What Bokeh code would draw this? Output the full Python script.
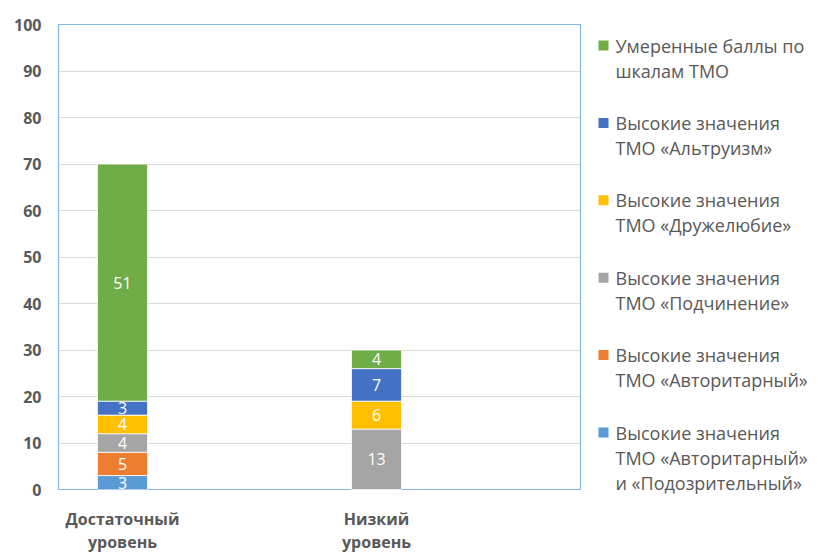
import numpy as np
from bokeh.plotting import figure
from bokeh.models import ColumnDataSource, FixedTicker, Range1d
from bokeh.layouts import row, column
from bokeh.embed import file_html
from bokeh.resources import INLINE
from bokeh.core.properties import value

# ---- data ----
categories = ["Достаточный\nуровень", "Низкий\nуровень"]
# series listed bottom -> top of the stack
series_labels = [
    "Высокие значения\nТМО «Авторитарный»\nи «Подозрительный»",
    "Высокие значения\nТМО «Авторитарный»",
    "Высокие значения\nТМО «Подчинение»",
    "Высокие значения\nТМО «Дружелюбие»",
    "Высокие значения\nТМО «Альтруизм»",
    "Умеренные  баллы по\nшкалам ТМО",
]
avt_podozr = [3, 0]
avtoritar = [5, 0]
podchin = [4, 13]
druzhel = [4, 6]
altruizm = [3, 7]
umerennye = [51, 4]
series_values = [avt_podozr, avtoritar, podchin, druzhel, altruizm, umerennye]
colors = ["#5B9BD5", "#ED7D31", "#A5A5A5", "#FFC000", "#4472C4", "#70AD47"]
y_ticks = list(range(0, 101, 10))

FONT = "Open Sans"
GRAY = "#595959"
FRAME_BOTTOM = 489
MAIN_H = 499

xs = np.arange(len(categories))
xr = Range1d(-0.252, 1.803)
p = figure(width=590, height=MAIN_H, output_backend="svg", toolbar_location=None,
           x_range=xr, y_range=Range1d(0, 100),
           min_border_left=58, min_border_right=10, min_border_top=24,
           min_border_bottom=MAIN_H - FRAME_BOTTOM)
p.outline_line_color = "#8AB6E3"
p.outline_line_width = 1.2
p.background_fill_color = "white"
p.border_fill_color = "white"

vals = np.array(series_values, dtype=float)
cum = np.cumsum(vals, axis=0)
lx, ly, lt = [], [], []
for i, (lab, col) in enumerate(zip(series_labels, colors)):
    top = cum[i]
    bottom = top - vals[i]
    src = ColumnDataSource(dict(x=xs, top=top, bottom=bottom))
    p.vbar(x="x", top="top", bottom="bottom", width=0.197, source=src,
           fill_color=col, line_color="white", line_width=0.8)
    for j in range(len(categories)):
        if vals[i][j] > 0:
            lx.append(xs[j]); ly.append((top[j] + bottom[j]) / 2); lt.append(str(int(vals[i][j])))
p.text(x=lx, y=ly, text=lt, text_color="white", text_align="center", text_baseline="middle",
       text_font=value(FONT), text_font_size="16px")

p.yaxis.ticker = FixedTicker(ticks=y_ticks)
p.yaxis.axis_line_color = None
p.yaxis.major_tick_line_color = None
p.yaxis.minor_tick_line_color = None
p.yaxis.major_tick_out = 0
p.yaxis.major_tick_in = 0
p.yaxis.major_label_text_font = FONT
p.yaxis.major_label_text_font_style = "bold"
p.yaxis.major_label_text_color = GRAY
p.yaxis.major_label_text_font_size = "16px"
p.yaxis.major_label_standoff = 17
p.xaxis.visible = False
p.xgrid.grid_line_color = None
p.ygrid.grid_line_color = "#D9D9D9"
p.ygrid.ticker = FixedTicker(ticks=y_ticks)

# ---- category labels strip (shares the x scale of the chart) ----
cat_h = 553 - MAIN_H
cf = figure(width=590, height=cat_h, output_backend="svg", toolbar_location=None,
            x_range=xr, y_range=Range1d(553, MAIN_H),
            min_border_left=58, min_border_right=10, min_border_top=0, min_border_bottom=0)
cf.axis.visible = False
cf.grid.visible = False
cf.outline_line_color = None
cf.background_fill_color = "white"
cf.border_fill_color = "white"
cx, cy, ct = [], [], []
for j, cat in enumerate(categories):
    for k, line in enumerate(cat.split("\n")):
        cx.append(xs[j]); cy.append(518 + k * 23); ct.append(line)
cf.text(x=cx, y=cy, text=ct, text_color=GRAY, text_align="center", text_baseline="middle",
        text_font=value(FONT), text_font_style="bold", text_font_size="16px")

# ---- legend panel ----
lg = figure(width=228, height=553, output_backend="svg", toolbar_location=None,
            x_range=Range1d(0, 228), y_range=Range1d(553, 0), min_border=0)
lg.axis.visible = False
lg.grid.visible = False
lg.outline_line_color = None
lg.background_fill_color = "white"
lg.border_fill_color = "white"

sq_x, sq_y, sq_c = [], [], []
tx, ty, tt = [], [], []
for k, idx in enumerate(reversed(range(len(series_labels)))):
    y0 = 45 + k * 77.4
    sq_x.append(13); sq_y.append(y0); sq_c.append(colors[idx])
    for j, line in enumerate(series_labels[idx].split("\n")):
        tx.append(25); ty.append(y0 + j * 25); tt.append(line)
lg.rect(x=sq_x, y=sq_y, width=10, height=10, fill_color=sq_c, line_color=None)
lg.text(x=tx, y=ty, text=tt, text_color=GRAY, text_align="left", text_baseline="middle",
        text_font=value(FONT), text_font_size="18px")

layout = row(column(p, cf, spacing=0), column(lg), spacing=0)
open("out.html", "w").write(file_html(layout, INLINE))
